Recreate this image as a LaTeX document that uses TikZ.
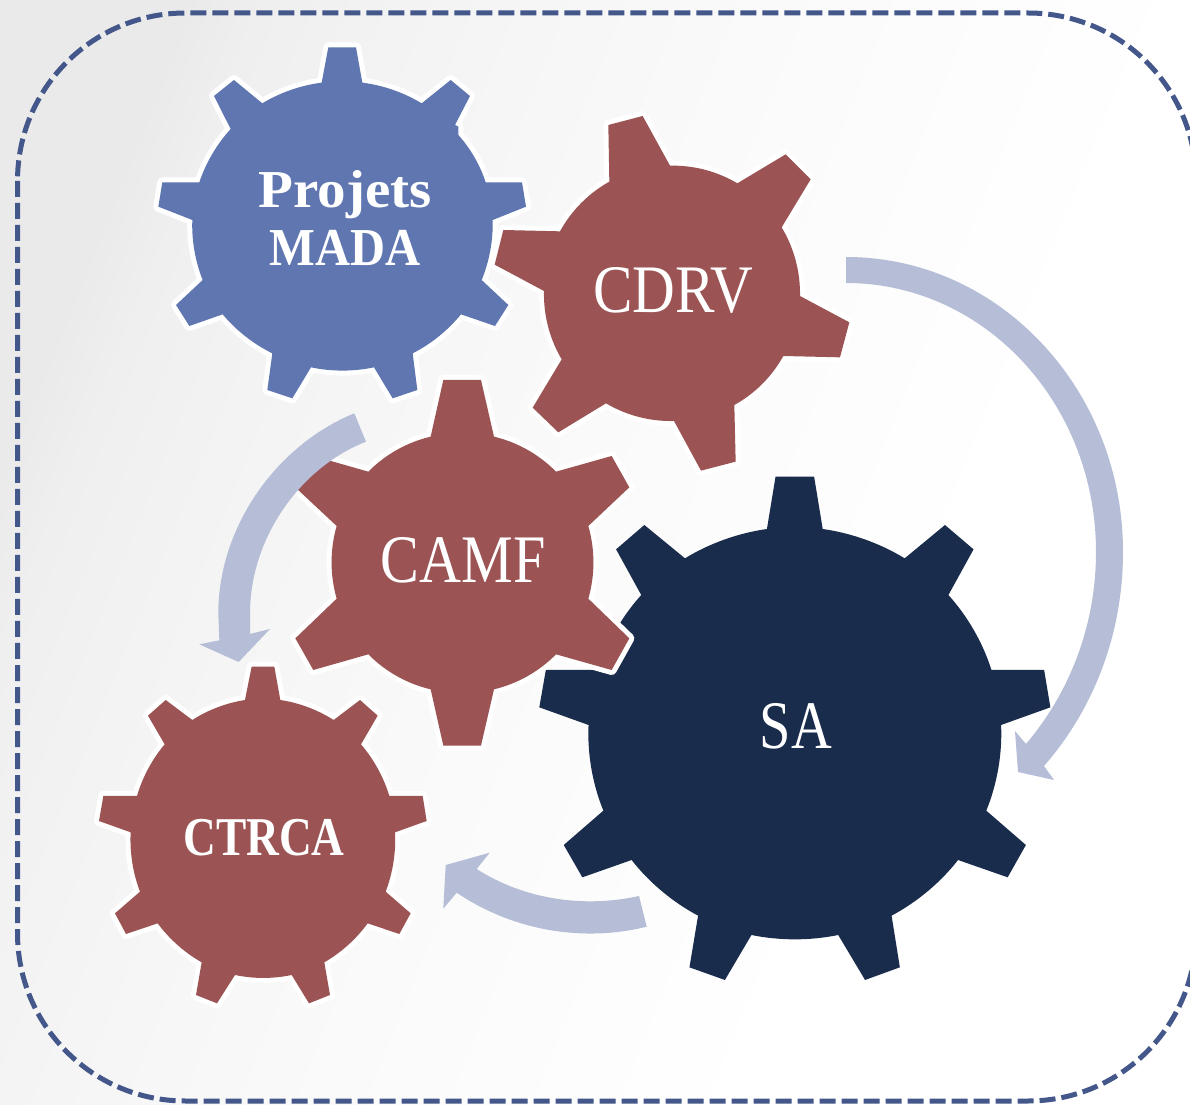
\documentclass[tikz,border=0pt]{standalone}
\usepackage{fontspec}
\setmainfont{Liberation Serif}
\definecolor{gblue}{HTML}{5F76B1}
\definecolor{gred}{HTML}{9B5354}
\definecolor{gnavy}{HTML}{192C4C}
\definecolor{arrowc}{HTML}{B5BDD7}
\definecolor{framec}{HTML}{44578A}
\definecolor{bgA}{HTML}{EAEAEA}
\definecolor{bgF}{HTML}{EFEFEF}
\definecolor{bgB}{HTML}{F2F2F2}
\definecolor{bgD}{HTML}{F6F6F6}
\definecolor{bgC}{HTML}{FAFAFA}
\definecolor{bgE}{HTML}{FDFDFD}
\pgfdeclarehorizontalshading{bgsh}{100bp}{color(0bp)=(bgA); color(25bp)=(bgA); color(28bp)=(bgF); color(32bp)=(bgB); color(39bp)=(bgD); color(48bp)=(bgC); color(58bp)=(bgE); color(65bp)=(white); color(100bp)=(white)}
\tikzset{
  gearbody/.style={fill=#1,preaction={draw=white,line width=7.5pt,line join=round}},
  wide/.style={bend left=12,looseness=0.85},
  wider/.style={bend left=16,looseness=0.87},
  flow/.style={fill=arrowc},
  reg/.style={text=white,font=\fontsize{51}{51}\selectfont,anchor=base,inner sep=0pt,outer sep=0pt,transform shape},
  bld/.style={text=white,font=\fontsize{40}{40}\selectfont\bfseries,anchor=base,inner sep=0pt,outer sep=0pt,transform shape}
}
\begin{document}
\begin{tikzpicture}[x=0.75pt,y=-0.75pt]
\useasboundingbox (0,0) rectangle (1190,1105);
\clip (0,0) rectangle (1190,1105);
\shade[shading=bgsh,shading angle=-22] (0,0) rectangle (1190,1105);
\draw[framec,line width=3.75pt,dash pattern=on 12pt off 4.5pt,rounded corners=126pt] (17.5,13) rectangle (1196,1101);

% SA gear
\begin{scope}[shift={(530,470)},xscale=0.34437,yscale=0.33333]
\fill[gnavy] (713,20)--(825,20)--(850,177) to[wide] (1088,265)--(1205,165)--(1288,238)--(1215,375) to[wide] (1340,600)--(1493,600)--(1511,712)--(1368,765) to[wide] (1325,1022)--(1440,1125)--(1387,1222)--(1243,1170) to[wide] (1050,1337)--(1074,1492)--(973,1530)--(895,1395) to[wide] (643,1395)--(566,1530)--(463,1492)--(488,1337) to[wide] (295,1170)--(152,1222)--(98,1125)--(213,1022) to[wide] (170,765)--(27,712)--(46,600)--(198,600) to[wide] (323,375)--(250,238)--(332,165)--(450,265) to[wide] (688,177)--cycle;
\end{scope}

% Projets MADA gear
\begin{scope}[shift={(140,30)},scale=0.33333]
\path[gearbody=gblue] (565,52)--(648,52)--(667,158) to[wide] (845,220)--(932,150)--(990,198)--(945,285)--(955,290)--(955,315) to[wide] (1037,457)--(1146,457)--(1158,530)--(1058,570) to[wide] (1025,750)--(1105,825)--(1065,888)--(963,853) to[wide] (818,970)--(832,1080)--(758,1105)--(702,1012) to[wide] (513,1012)--(457,1105)--(382,1080)--(397,970) to[wide] (248,853)--(148,888)--(108,825)--(188,750) to[wide] (157,570)--(55,530)--(67,457)--(178,457) to[wide] (272,297)--(222,198)--(282,150)--(367,220) to[wide] (545,158)--cycle;
\end{scope}

% CDRV gear
\begin{scope}[shift={(480,100)},scale=0.33333]
\path[gearbody=gred] (385,75)--(488,48)--(570,197) to[wider] (772,250)--(917,163)--(992,238)--(905,382) to[wider] (960,588)--(1108,667)--(1080,772)--(910,768) to[wider] (763,915)--(767,1085)--(663,1112)--(582,963) to[wider] (378,910)--(235,997)--(158,923)--(245,778) to[wider] (192,573)--(44,494)--(70,390)--(240,394) to[wider] (388,245)--cycle;
\end{scope}

% CAMF gear
\begin{scope}[shift={(190,370)},scale=0.33333]
\path[gearbody=gred] (760,30)--(873,30)--(912,200) to[wider] (1098,305)--(1265,258)--(1318,352)--(1195,468) to[wider] (1195,686)--(1318,805)--(1265,900)--(1098,853) to[wider] (912,958)--(873,1127)--(760,1127)--(722,958) to[wider] (535,853)--(370,900)--(316,805)--(440,686) to[wider] (440,468)--(316,352)--(370,258)--(535,305) to[wider] (722,200)--cycle;
\end{scope}

% CTRCA gear
\begin{scope}[shift={(90,660)},scale=0.33333]
\path[gearbody=gred] (485,20)--(553,20)--(571,120) to[wide] (731,180)--(810,120)--(863,167)--(813,253) to[wide] (898,408)--(998,408)--(1010,483)--(915,517) to[wide] (887,695)--(962,760)--(928,822)--(833,790) to[wide] (703,907)--(720,1005)--(657,1030)--(605,945) to[wide] (435,945)--(381,1030)--(318,1005)--(335,907) to[wide] (203,790)--(108,822)--(75,760)--(150,695) to[wide] (122,517)--(27,483)--(40,408)--(141,408) to[wide] (224,253)--(174,167)--(227,120)--(307,180) to[wide] (465,120)--cycle;
\end{scope}

% block arrows
\fill[flow] (846,257) .. controls (999,257) and (1123,389) .. (1123,552) .. controls (1123,635) and (1093,710) .. (1044,766) -- (1054,780) -- (1018,772) -- (1015,731) -- (1026,744) .. controls (1070,692) and (1096,625) .. (1096,552) .. controls (1096,403) and (984,283) .. (846,283) -- cycle;

\begin{scope}[shift={(190,370)},scale=0.33333]
\fill[flow] (493,130) .. controls (260,225) and (85,470) .. (85,730) -- (88,811) -- (28,823) -- (146,876) -- (240,777) -- (180,792) -- (180,730) .. controls (180,510) and (325,295) .. (528,215) -- cycle;
\end{scope}

\fill[flow] (639,896) .. controls (585,908) and (525,900) .. (476.7,869) -- (489.7,852.7) -- (445.7,865) -- (443.3,908.7) -- (456.7,892.7) .. controls (515,932) and (585,942) .. (646.7,926.7) -- cycle;

% labels
\node[reg,xscale=0.87] (cdrv) at (673,313) {CDRV};
\node[reg,xscale=0.855] (camf) at (463,583) {CAMF};
\node[reg,xscale=0.83] (sa) at (796,748) {SA};
\node[bld,xscale=1.07] (proj) at (345,208) {Projets};
\node[bld,xscale=0.91] (mada) at (345,266) {MADA};
\node[bld,xscale=0.83,font=\fontsize{41}{41}\selectfont\bfseries] (ctrca) at (264,855) {CTRCA};
\end{tikzpicture}
\end{document}
